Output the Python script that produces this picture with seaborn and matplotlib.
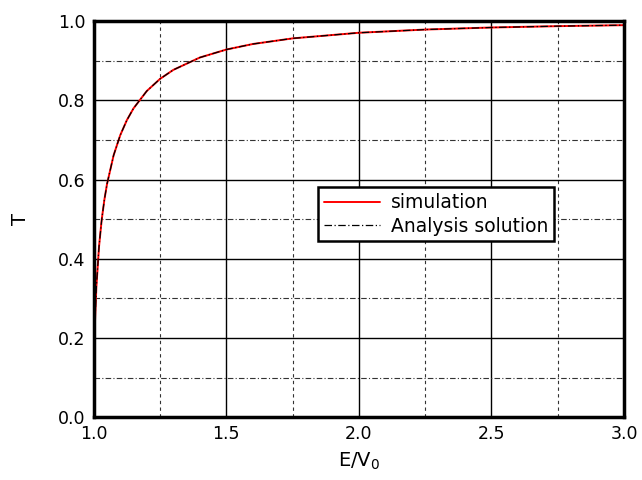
import numpy as np
import pandas as pd
import matplotlib
matplotlib.use("Agg")
import matplotlib.pyplot as plt
from matplotlib.ticker import MultipleLocator
import seaborn as sns

# energy ratio E/V0 and transmission T
energyRatio = [1.0, 1.0002, 1.0005, 1.001, 1.002, 1.005, 1.01, 1.02, 1.03, 1.04,
               1.05, 1.075, 1.1, 1.125, 1.15, 1.2, 1.25, 1.3, 1.4, 1.5,
               1.6, 1.75, 2.0, 2.25, 2.5, 2.75, 3.0]
transmission = [0.0, 0.0550, 0.0856, 0.1188, 0.1638, 0.2462, 0.3292, 0.4310, 0.4981, 0.5483,
                0.5882, 0.6612, 0.7120, 0.7500, 0.7797, 0.8234, 0.8541, 0.8768, 0.9080, 0.9282,
                0.9422, 0.9564, 0.9706, 0.9787, 0.9839, 0.9873, 0.9898]

simFrame = pd.DataFrame({"E": energyRatio, "T": transmission})

sns.set_style("white")
plt.rcParams["font.family"] = ["DejaVu Sans"]
plt.rcParams["text.color"] = "black"
plt.rcParams["axes.labelcolor"] = "black"
plt.rcParams["xtick.color"] = "black"
plt.rcParams["ytick.color"] = "black"

fig, ax = plt.subplots(figsize=(6.42, 4.8), dpi=100)
fig.subplots_adjust(left=0.146, right=0.972, top=0.956, bottom=0.131)

sns.lineplot(data=simFrame, x="E", y="T", ax=ax, color="red", lw=1.4,
             label="simulation", estimator=None, sort=False)
sns.lineplot(data=simFrame, x="E", y="T", ax=ax, color="black", lw=0.9,
             linestyle=(0, (6, 2, 1, 2)), label="Analysis solution",
             estimator=None, sort=False)

ax.set_xlim(1.0, 3.0)
ax.set_ylim(0.0, 1.0)
ax.xaxis.set_major_locator(MultipleLocator(0.5))
ax.xaxis.set_minor_locator(MultipleLocator(0.25))
ax.yaxis.set_major_locator(MultipleLocator(0.2))
ax.yaxis.set_minor_locator(MultipleLocator(0.1))
ax.xaxis.set_major_formatter(matplotlib.ticker.FormatStrFormatter("%.1f"))
ax.yaxis.set_major_formatter(matplotlib.ticker.FormatStrFormatter("%.1f"))

ax.grid(which="major", color="black", lw=1.0, ls="-")
ax.grid(which="minor", axis="x", color="#333333", lw=0.8, ls=(0, (3, 3)))
ax.grid(which="minor", axis="y", color="#333333", lw=0.8, ls=(0, (5, 2, 1, 2)))
ax.set_axisbelow(True)

ax.tick_params(which="both", direction="in", top=False, right=False,
               labelsize=12.5, pad=6)
ax.tick_params(which="major", length=5, width=2)
ax.tick_params(which="minor", length=4, width=1.5)
for spine in ax.spines.values():
    spine.set_linewidth(2.5)
    spine.set_color("black")

ax.set_xlabel("E/V$_0$", fontsize=14, labelpad=5)
ax.set_ylabel("T", fontsize=14, labelpad=20)

legend = ax.legend(loc="upper left", bbox_to_anchor=(0.423, 0.58),
                   borderaxespad=0, fontsize=13.5, frameon=True, fancybox=False,
                   handlelength=3.0, handletextpad=0.6, borderpad=0.3,
                   labelspacing=0.25)
legend.get_frame().set_edgecolor("black")
legend.get_frame().set_linewidth(1.8)
legend.get_frame().set_alpha(1)

fig.savefig("out.png", dpi=100)
